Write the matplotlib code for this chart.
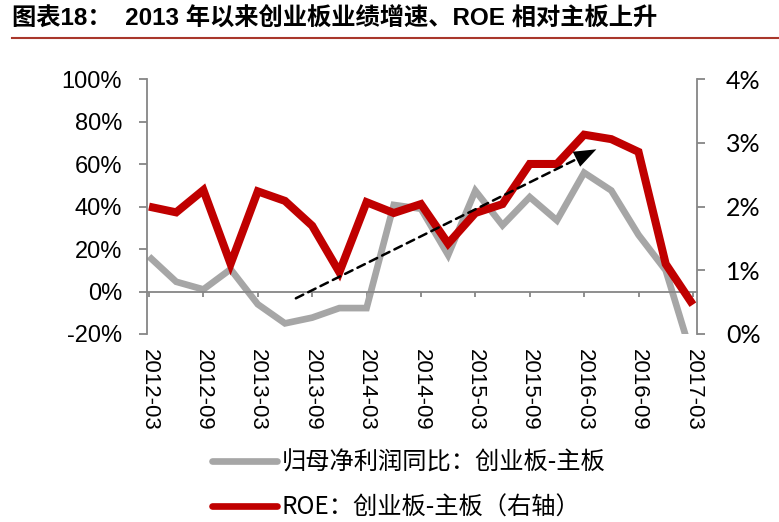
import numpy as np
import matplotlib
matplotlib.use("Agg")
import matplotlib.pyplot as plt
from matplotlib.lines import Line2D
from matplotlib.font_manager import FontProperties

# ------------------------------------------------------------------
# Données
# ------------------------------------------------------------------
dates = ["2012-03", "2012-06", "2012-09", "2012-12",
         "2013-03", "2013-06", "2013-09", "2013-12",
         "2014-03", "2014-06", "2014-09", "2014-12",
         "2015-03", "2015-06", "2015-09", "2015-12",
         "2016-03", "2016-06", "2016-09", "2016-12",
         "2017-03"]

# 归母净利润同比：创业板-主板 (axe gauche, %)
profit_diff = [16.5, 4.6, 1.0, 10.5, -6.0, -15.0, -12.3, -7.8, -7.8, 40.8,
               39.0, 17.2, 47.5, 31.2, 44.5, 33.5, 56.0, 47.6, 26.7, 10.0,
               -32.0]

# ROE：创业板-主板 (axe droit, %)
roe_diff = [2.00, 1.91, 2.26, 1.10, 2.24, 2.09, 1.70, 0.97, 2.07, 1.90,
            2.04, 1.42, 1.90, 2.04, 2.67, 2.67, 3.13, 3.06, 2.86, 1.10,
            0.46]

left_ticks = [-20, 0, 20, 40, 60, 80, 100]
right_ticks = [0, 1, 2, 3, 4]

label_profit = "归母净利润同比：创业板-主板"
label_roe = "ROE：创业板-主板（右轴）"
title = "图表18：  2013 年以来创业板业绩增速、ROE 相对主板上升"

# flèche de tendance (indices de trimestre, valeurs axe droit)
arrow_start = (5.4, 0.56)
arrow_end = (16.45, 2.90)

RED = "#C00000"
GREY = "#A6A6A6"
AXIS = "#868686"

x = np.arange(len(dates))

# ------------------------------------------------------------------
# Figure
# ------------------------------------------------------------------
fig = plt.figure(figsize=(7.79, 5.22), dpi=100)
ax = fig.add_axes([0.1883, 0.3602, 0.7064, 0.4879])
ax2 = ax.twinx()

ax.plot(x, profit_diff, color=GREY, lw=4.8, solid_joinstyle="miter",
        solid_capstyle="butt")
ax2.plot(x, roe_diff, color=RED, lw=5.8, solid_joinstyle="miter",
         solid_capstyle="butt")

# flèche : tiret + pointe pleine
ax2.annotate("", xy=arrow_end, xytext=arrow_start,
             arrowprops=dict(arrowstyle="-", lw=1.8, ls=(0, (3.3, 2.2)),
                             color="black", shrinkA=0, shrinkB=8))
ax2.annotate("", xy=arrow_end, xytext=arrow_start,
             arrowprops=dict(arrowstyle="-|>,head_length=1.6,head_width=0.6",
                             lw=0, color="black", shrinkA=0, shrinkB=0,
                             mutation_scale=10))

ax.set_xlim(-0.085, 20.15)
ax.set_ylim(-20, 100)
ax2.set_ylim(0, 4)

# axes
for a in (ax, ax2):
    a.spines["top"].set_visible(False)
ax.spines["right"].set_visible(False)
ax2.spines["left"].set_visible(False)
ax2.spines["bottom"].set_visible(False)
ax.spines["bottom"].set_position(("data", 0))
for s in (ax.spines["left"], ax.spines["bottom"], ax2.spines["right"]):
    s.set_color(AXIS)
    s.set_linewidth(1.3)

ax.set_yticks(left_ticks)
ax.set_yticklabels([f"{v}%" for v in left_ticks])
ax.tick_params(axis="y", direction="out", length=5.8, width=1.3, color=AXIS,
               pad=12, labelsize=17)
for t in ax.get_yticklabels():
    t.set_family("Liberation Sans")

ax2.set_yticks(right_ticks)
ax2.set_yticklabels([f"{v}%" for v in right_ticks])
ax2.tick_params(axis="y", direction="out", length=5.8, width=1.3, color=AXIS,
                pad=15, labelsize=18)
for t in ax2.get_yticklabels():
    t.set_family("Lato")

ax.set_xticks(x[::2])
ax.set_xticklabels(dates[::2], rotation=-90)
ax.tick_params(axis="x", direction="out", length=3.6, width=1.3, color=AXIS,
               pad=38, labelsize=16)
for t in ax.get_xticklabels():
    t.set_family("Liberation Sans")

# titre + filet
fig.text(12 / 779, 1 - 19 / 522, title, fontsize=17.5, fontweight="bold",
         va="center", ha="left",
         family=["Liberation Sans", "Noto Sans CJK SC"])
fig.add_artist(Line2D([12 / 779, 1.0], [1 - 38.3 / 522] * 2,
                      color="#A9372B", lw=1.5))

# légende
h1 = Line2D([], [], color=GREY, lw=4.8, solid_capstyle="round")
h2 = Line2D([], [], color=RED, lw=4.8, solid_capstyle="round")
fig.legend([h1, h2], [label_profit, label_roe], loc="upper left",
           bbox_to_anchor=(211.7 / 779, 1 - 450 / 522), frameon=False,
           borderpad=0, borderaxespad=0, handlelength=2.67,
           handletextpad=0.2, labelspacing=0.78,
           prop=FontProperties(family="Noto Sans CJK SC", size=17.5))

fig.savefig("out.png", dpi=100)
